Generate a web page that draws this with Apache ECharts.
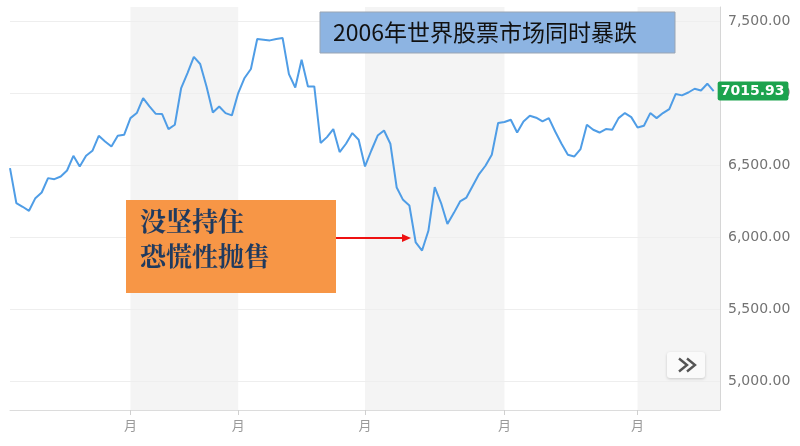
<!DOCTYPE html>
<html>
<head>
<meta charset="utf-8">
<script src="https://cdn.jsdelivr.net/npm/echarts@6/dist/echarts.min.js"></script>
<style>
html,body{margin:0;padding:0;background:#fff;}
#main{width:800px;height:446px;}
</style>
</head>
<body>
<div id="main"></div>
<script>
// ---- data ----
const values = [
  6481, 6238, 6212, 6184, 6272, 6311, 6411, 6404, 6422, 6464,
  6566, 6492, 6566, 6601, 6705, 6666, 6631, 6705, 6712, 6828,
  6863, 6967, 6909, 6858, 6856, 6752, 6782, 7037, 7141, 7253,
  7204, 7048, 6867, 6909, 6863, 6847, 7002, 7107, 7169, 7378,
  7373, 7368, 7378, 7385, 7134, 7041, 7234, 7048, 7048, 6655,
  6696, 6752, 6592, 6650, 6724, 6678, 6492, 6603, 6707, 6742,
  6650, 6346, 6260, 6221, 5964, 5908, 6045, 6349, 6238, 6092,
  6168, 6249, 6276, 6358, 6439, 6497, 6573, 6794, 6801, 6817,
  6728, 6805, 6844, 6831, 6805, 6828, 6735, 6650, 6573, 6561,
  6613, 6782, 6747, 6728, 6752, 6747, 6828, 6863, 6835, 6763,
  6775, 6863, 6828, 6863, 6891, 6995, 6986, 7006, 7032, 7020,
  7067, 7015.93, null
];
const categories = values.map((_, i) => String(i));
const monthStartIdx = [19, 36, 56, 78, 99];
const monthLabel = '月';
const shadedBands = [[19, 36], [56, 78], [99, 112]];
const yTicks = [5000, 5500, 6000, 6500, 7000, 7500];
const titleText = '2006年世界股票市场同时暴跌';
const noteText = '没坚持住\n恐慌性抛售';

// ---- chart ----
const chart = echarts.init(document.getElementById('main'), null, {renderer: 'canvas'});
const fmt = v => v.toLocaleString('en-US', {minimumFractionDigits: 2, maximumFractionDigits: 2});
const isMonth = idx => monthStartIdx.indexOf(idx) >= 0;

const option = {
  animation: false,
  backgroundColor: '#ffffff',
  grid: {left: 10, right: 80, top: 7, bottom: 36, containLabel: false},
  xAxis: {
    type: 'category',
    data: categories,
    boundaryGap: false,
    axisLine: {show: true, lineStyle: {color: '#dcdcdc', width: 1}},
    axisTick: {show: true, interval: isMonth, length: 5, lineStyle: {color: '#d0d0d0'}},
    axisLabel: {
      show: true, interval: isMonth, formatter: () => monthLabel,
      color: '#9a9a9a', fontSize: 13, margin: 9,
      fontFamily: 'Noto Sans CJK SC'
    },
    splitLine: {show: false}
  },
  yAxis: {
    type: 'value',
    position: 'right',
    min: 4800, max: 7600, interval: 100,
    axisLine: {show: true, lineStyle: {color: '#d6d6d6'}},
    axisTick: {show: false},
    splitLine: {show: false},
    axisLabel: {
      margin: 8,
      color: '#737373', fontSize: 14, fontFamily: 'DejaVu Sans',
      formatter: v => (yTicks.indexOf(v) >= 0 ? fmt(v) : '')
    }
  },
  series: [
    {
      type: 'line',
      data: [],
      silent: true,
      z: 0,
      markArea: {
        silent: true,
        itemStyle: {color: '#f4f4f4'},
        data: shadedBands.map(b => [{xAxis: String(b[0])}, {xAxis: String(b[1])}])
      },
      markLine: {
        silent: true,
        z: 1,
        symbol: ['none', 'none'],
        label: {show: false},
        lineStyle: {color: '#eeeeee', type: 'solid', width: 1},
        data: yTicks.map(v => ({yAxis: v}))
      }
    },
    {
      type: 'line',
      data: values,
      z: 3,
      showSymbol: false,
      symbol: 'none',
      connectNulls: false,
      lineStyle: {color: '#4f9de6', width: 2},
      endLabel: {
        show: true,
        formatter: p => Number(p.value).toFixed(2),
        backgroundColor: '#1ca34e',
        color: '#ffffff',
        fontSize: 14,
        fontWeight: 'bold',
        fontFamily: 'DejaVu Sans',
        padding: [3, 4, 2, 3],
        borderRadius: 2,
        distance: 4
      }
    }
  ],
  graphic: [
    {
      type: 'rect', z: 100,
      shape: {x: 320, y: 12, width: 355, height: 41},
      style: {fill: '#8db4e2', stroke: '#9aa5b3', lineWidth: 1}
    },
    {
      type: 'text', z: 101, x: 333, y: 32,
      style: {
        text: titleText, fill: '#111111', fontSize: 23,
        fontFamily: 'Noto Sans CJK SC', verticalAlign: 'middle', align: 'left'
      }
    },
    {
      type: 'rect', z: 100,
      shape: {x: 126, y: 200, width: 210, height: 93},
      style: {fill: '#f79646'}
    },
    {
      type: 'text', z: 101, x: 140, y: 204,
      style: {
        text: noteText, fill: '#1f3a5f', fontSize: 26, lineHeight: 35,
        fontWeight: 'bold', fontFamily: 'Noto Serif CJK SC, Noto Sans CJK SC',
        verticalAlign: 'top', align: 'left'
      }
    },
    {
      type: 'line', z: 100,
      shape: {x1: 336, y1: 238, x2: 404, y2: 238},
      style: {stroke: '#ee1111', lineWidth: 2}
    },
    {
      type: 'polygon', z: 100,
      shape: {points: [[402, 234], [411, 238], [402, 242]]},
      style: {fill: '#ee1111'}
    },
    {
      type: 'rect', z: 100,
      shape: {x: 667, y: 352, width: 38, height: 26, r: 3},
      style: {fill: '#fafafa', shadowBlur: 3, shadowColor: 'rgba(0,0,0,0.18)', shadowOffsetY: 1}
    },
    {
      type: 'polyline', z: 101,
      shape: {points: [[679, 358.5], [687, 365], [679, 371.5]]},
      style: {stroke: '#555555', lineWidth: 2.4, fill: null}
    },
    {
      type: 'polyline', z: 101,
      shape: {points: [[687, 358.5], [695, 365], [687, 371.5]]},
      style: {stroke: '#555555', lineWidth: 2.4, fill: null}
    }
  ]
};
chart.setOption(option);
</script>
</body>
</html>
